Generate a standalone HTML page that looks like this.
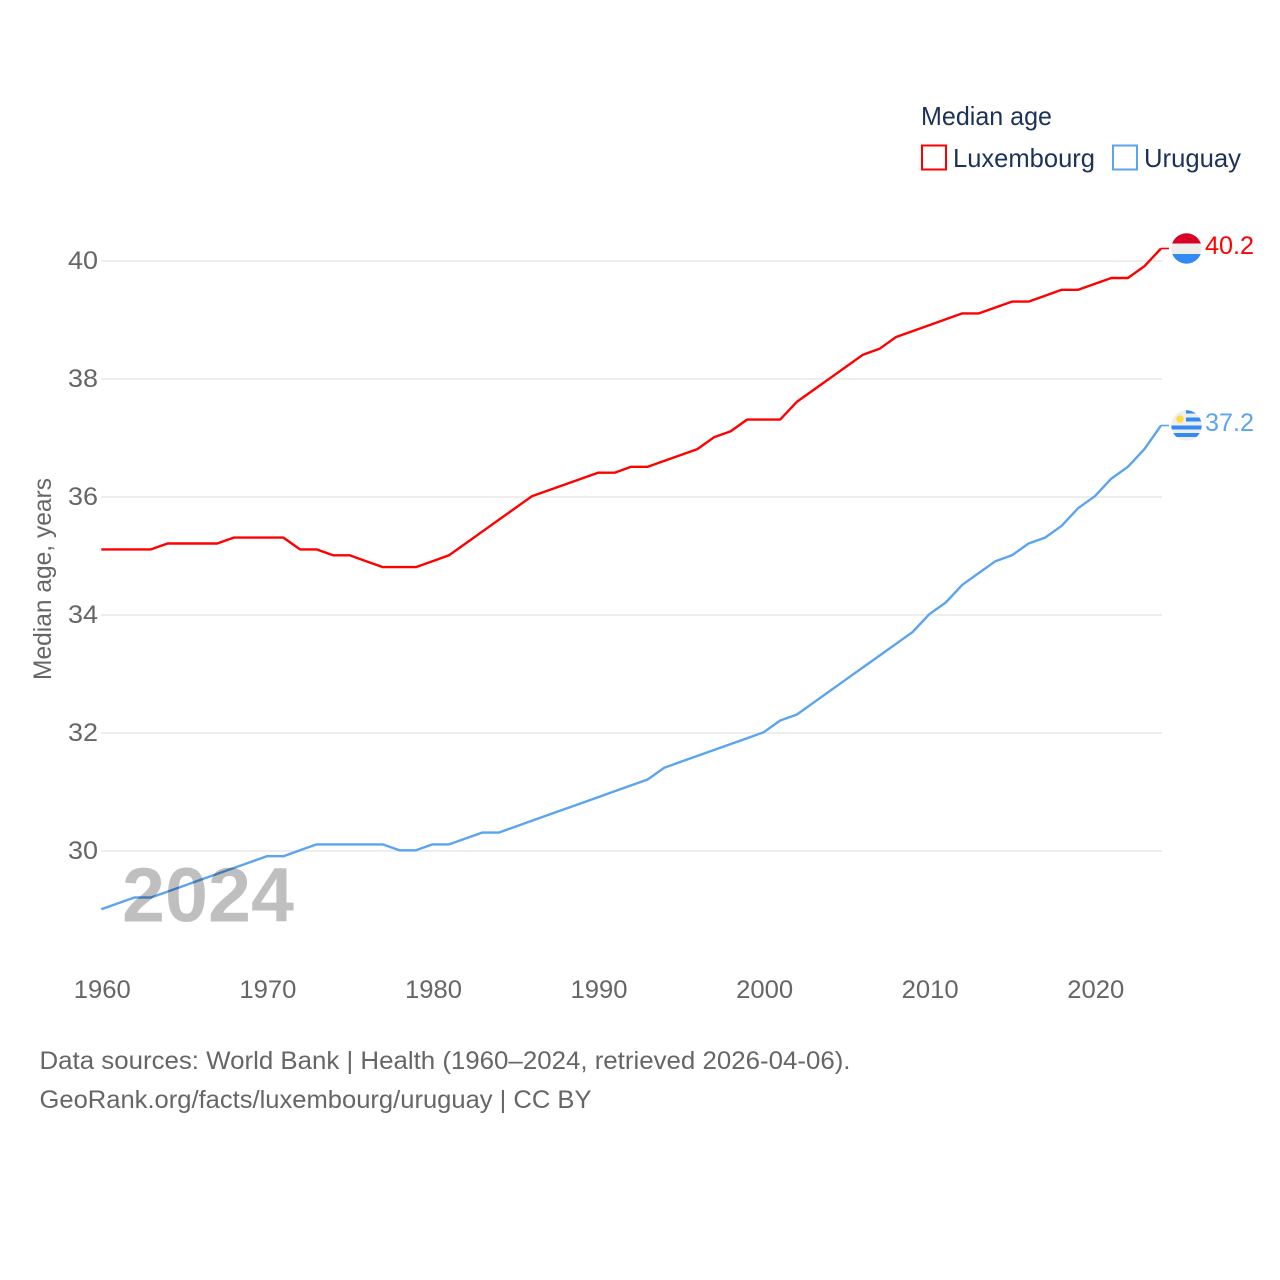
<!DOCTYPE html>
<html lang="en">
<head>
<meta charset="utf-8">
<title>Median age: Luxembourg and Uruguay</title>
<style>
html,body{margin:0;padding:0;background:#fff;width:1280px;height:1280px;overflow:hidden}
svg{display:block}
text{font-family:"Liberation Sans",sans-serif}
.lbl{fill:#666;font-size:25px}
.navy{fill:#1b3358;font-size:26px}
</style>
</head>
<body>
<svg id="chart" width="1280" height="1280" viewBox="0 0 1280 1280" xmlns="http://www.w3.org/2000/svg">
  <defs>
    <clipPath id="clip-lu"><circle cx="1186.5" cy="248.5" r="15.2"/></clipPath>
    <clipPath id="clip-uy"><circle cx="1186.5" cy="425.5" r="15.2"/></clipPath>
  </defs>
  <g id="grid"></g>
  <g id="yticks"></g>
  <g id="xticks"></g>
  <text class="lbl" transform="translate(51,680) rotate(-90)" textLength="202" lengthAdjust="spacingAndGlyphs">Median age, years</text>

  <path id="line-lu" fill="none" stroke="#ff0000" stroke-width="2.4" stroke-linejoin="round"/>
  <path id="line-uy" fill="none" stroke="#5ba4ee" stroke-width="2.4" stroke-linejoin="round"/>
  <path id="lead-lu" fill="none" stroke="#ff0000" stroke-width="1.6"/>
  <path id="lead-uy" fill="none" stroke="#5ba4ee" stroke-width="1.6"/>

  <text x="122" y="921.500" font-size="77" font-weight="700" fill="#000" fill-opacity="0.25" textLength="172" lengthAdjust="spacingAndGlyphs">2024</text>

  <g clip-path="url(#clip-lu)">
    <rect x="1170" y="233" width="34" height="10.500" fill="#d80027"/>
    <rect x="1170" y="243.500" width="34" height="10.500" fill="#eeeeee"/>
    <rect x="1170" y="254" width="34" height="11" fill="#338af3"/>
  </g>
  <g clip-path="url(#clip-uy)">
    <rect x="1170" y="410" width="34" height="32" fill="#eeeeee"/>
    <rect x="1186" y="410" width="18" height="3.500" fill="#338af3"/>
    <rect x="1186" y="417.500" width="18" height="4" fill="#338af3"/>
    <rect x="1170" y="425.500" width="34" height="4" fill="#338af3"/>
    <rect x="1170" y="433" width="34" height="4" fill="#338af3"/>
    <circle cx="1180" cy="419" r="3.800" fill="#ffda44"/>
  </g>
  <text x="1205" y="254" font-size="25" fill="#ff0000" textLength="49" lengthAdjust="spacingAndGlyphs">40.2</text>
  <text x="1205" y="431" font-size="25" fill="#5ba4ee" textLength="49" lengthAdjust="spacingAndGlyphs">37.2</text>

  <g>
    <text class="navy" x="921" y="125" textLength="131" lengthAdjust="spacingAndGlyphs">Median age</text>
    <rect x="922" y="145.500" width="24" height="24" fill="none" stroke="#ff0000" stroke-width="2"/>
    <text class="navy" x="953" y="167" textLength="142" lengthAdjust="spacingAndGlyphs">Luxembourg</text>
    <rect x="1113" y="145.500" width="24" height="24" fill="none" stroke="#5ba4ee" stroke-width="2"/>
    <text class="navy" x="1144" y="167" textLength="97" lengthAdjust="spacingAndGlyphs">Uruguay</text>
  </g>

  <text class="lbl" x="39.500" y="1069" font-size="26" textLength="811" lengthAdjust="spacingAndGlyphs">Data sources: World Bank | Health (1960–2024, retrieved 2026-04-06).</text>
  <text class="lbl" x="39.500" y="1108" font-size="26" textLength="552" lengthAdjust="spacingAndGlyphs">GeoRank.org/facts/luxembourg/uruguay | CC BY</text>
</svg>
<script>
var startYear = 1960;
var luxembourgValues = [35.1,35.1,35.1,35.1,35.2,35.2,35.2,35.2,35.3,35.3,35.3,35.3,35.1,35.1,35.0,35.0,34.9,34.8,34.8,34.8,34.9,35.0,35.2,35.4,35.6,35.8,36.0,36.1,36.2,36.3,36.4,36.4,36.5,36.5,36.6,36.7,36.8,37.0,37.1,37.3,37.3,37.3,37.6,37.8,38.0,38.2,38.4,38.5,38.7,38.8,38.9,39.0,39.1,39.1,39.2,39.3,39.3,39.4,39.5,39.5,39.6,39.7,39.7,39.9,40.2];
var uruguayValues = [29.0,29.1,29.2,29.2,29.3,29.4,29.5,29.6,29.7,29.8,29.9,29.9,30.0,30.1,30.1,30.1,30.1,30.1,30.0,30.0,30.1,30.1,30.2,30.3,30.3,30.4,30.5,30.6,30.7,30.8,30.9,31.0,31.1,31.2,31.4,31.5,31.6,31.7,31.8,31.9,32.0,32.2,32.3,32.5,32.7,32.9,33.1,33.3,33.5,33.7,34.0,34.2,34.5,34.7,34.9,35.0,35.2,35.3,35.5,35.8,36.0,36.3,36.5,36.8,37.2];
var yTickValues = [30,32,34,36,38,40];
var xTickValues = [1960,1970,1980,1990,2000,2010,2020];

var NS = 'http://www.w3.org/2000/svg';
function xScale(year) { return 101.3 + (year - 1960) * (1059.7 / 64); }
function yScale(value) { return 850.3 - (value - 30) * 59; }
function linePath(values) {
  return values.map(function (v, i) {
    return (i ? 'L' : 'M') + xScale(startYear + i).toFixed(2) + ' ' + yScale(v).toFixed(2);
  }).join(' ');
}
function makeEl(tag, attrs, parent) {
  var el = document.createElementNS(NS, tag);
  for (var k in attrs) { el.setAttribute(k, attrs[k]); }
  parent.appendChild(el);
  return el;
}
var gridGroup = document.getElementById('grid');
var yGroup = document.getElementById('yticks');
var xGroup = document.getElementById('xticks');

yTickValues.forEach(function (t) {
  var gy = yScale(t) + 0.7;
  var gl = makeEl('line', { x1: 101, x2: 1162, y1: gy, y2: gy, stroke: '#eeeeee', 'stroke-width': 2 }, gridGroup);
  
  
  var lb = makeEl('text', { x: 98, y: gy + 8, 'text-anchor': 'end', class: 'lbl', textLength: 30, lengthAdjust: 'spacingAndGlyphs' }, yGroup);
  
  
  lb.textContent = String(t);
});
xTickValues.forEach(function (t) {
  var lb = makeEl('text', { x: xScale(t) + 1, y: 998, 'text-anchor': 'middle', class: 'lbl', textLength: 57, lengthAdjust: 'spacingAndGlyphs' }, xGroup);
  
  
  lb.textContent = String(t);
});

document.getElementById('line-lu').setAttribute('d', linePath(luxembourgValues));
document.getElementById('line-uy').setAttribute('d', linePath(uruguayValues));

var endX = xScale(startYear + luxembourgValues.length - 1);
var endLu = yScale(luxembourgValues[luxembourgValues.length - 1]);
var endUy = yScale(uruguayValues[uruguayValues.length - 1]);
document.getElementById('lead-lu').setAttribute('d', 'M' + endX + ' ' + endLu + ' H' + (endX + 8));
document.getElementById('lead-uy').setAttribute('d', 'M' + endX + ' ' + endUy + ' H' + (endX + 8));
</script>
</body>
</html>
